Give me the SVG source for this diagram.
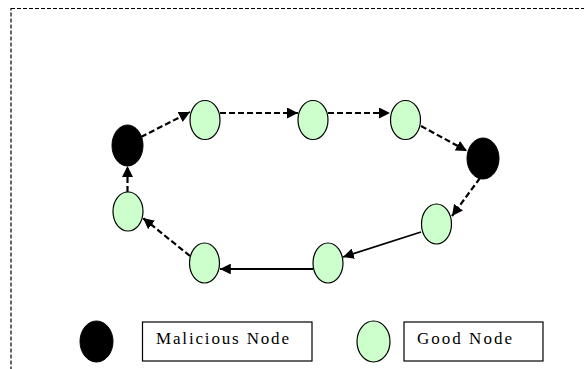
<svg xmlns="http://www.w3.org/2000/svg" width="584" height="369" viewBox="0 0 584 369">
<style>
.good{fill:#ccffcc;stroke:#000;stroke-width:1.2}
.bad{fill:#000;stroke:#000;stroke-width:1}
.dash{fill:none;stroke:#000;stroke-width:2.2;stroke-dasharray:6 3}
.solid{fill:none;stroke:#000;stroke-width:1.8}
.box{fill:#fff;stroke:#000;stroke-width:1.2}
.lbl{font-family:"Liberation Serif","Times New Roman",serif;font-size:17px;fill:#000}
</style>
<defs>
<marker id="ah" viewBox="0 0 10 10" refX="10" refY="5" markerWidth="5" markerHeight="5" orient="auto" markerUnits="strokeWidth">
<path d="M0,0 L10,5 L0,10 z" fill="#000"/>
</marker>
<marker id="ahs" viewBox="0 0 10 10" refX="10" refY="5" markerWidth="6" markerHeight="6" orient="auto" markerUnits="strokeWidth">
<path d="M0,0 L10,5 L0,10 z" fill="#000"/>
</marker>
</defs>
<rect x="11" y="8.5" width="600" height="400" fill="none" stroke="#000" stroke-width="1.2" stroke-dasharray="4 2"/>
<g id="connectors">
<line class="dash" x1="141" y1="137" x2="190" y2="112" marker-end="url(#ah)"/>
<line class="dash" x1="220" y1="113" x2="298" y2="113" marker-end="url(#ah)"/>
<line class="dash" x1="328" y1="113" x2="390" y2="113" marker-end="url(#ah)"/>
<line class="dash" x1="421" y1="126" x2="467" y2="151" marker-end="url(#ah)"/>
<line class="dash" x1="480" y1="178" x2="452" y2="216" marker-end="url(#ah)"/>
<line class="solid" x1="421" y1="232" x2="343" y2="257" marker-end="url(#ahs)"/>
<line class="solid" x1="313" y1="269" x2="220" y2="269" marker-end="url(#ahs)"/>
<line class="dash" x1="190" y1="256" x2="143" y2="218" marker-end="url(#ah)"/>
<line class="dash" x1="127.5" y1="192" x2="127.5" y2="166" marker-end="url(#ah)"/>
</g>
<g id="m1"><ellipse class="bad" cx="127.5" cy="145.5" rx="15.5" ry="20.5"/></g>
<g id="n1"><ellipse class="good" cx="205" cy="120" rx="15" ry="19.5"/></g>
<g id="n2"><ellipse class="good" cx="313" cy="120" rx="15" ry="19.5"/></g>
<g id="n3"><ellipse class="good" cx="405.5" cy="120" rx="15" ry="19.5"/></g>
<g id="m2"><ellipse class="bad" cx="483" cy="158.5" rx="16" ry="20.5"/></g>
<g id="n4"><ellipse class="good" cx="436.5" cy="224" rx="15" ry="20"/></g>
<g id="n5"><ellipse class="good" cx="328" cy="263" rx="15" ry="20"/></g>
<g id="n6"><ellipse class="good" cx="204.5" cy="263" rx="15" ry="20"/></g>
<g id="n7"><ellipse class="good" cx="128" cy="211.5" rx="15" ry="19.5"/></g>
<g id="legend-malicious">
<ellipse class="bad" cx="96.5" cy="341.5" rx="16.5" ry="20.5"/>
<rect class="box" x="142.5" y="322" width="169.5" height="39"/>
<text class="lbl" x="156" y="343.5" textLength="133" lengthAdjust="spacing">Malicious Node</text>
</g>
<g id="legend-good">
<ellipse class="good" cx="373.5" cy="341.5" rx="16.5" ry="20.5"/>
<rect class="box" x="404" y="322" width="139" height="39"/>
<text class="lbl" x="417" y="343.5" textLength="95" lengthAdjust="spacing">Good Node</text>
</g>
</svg>
